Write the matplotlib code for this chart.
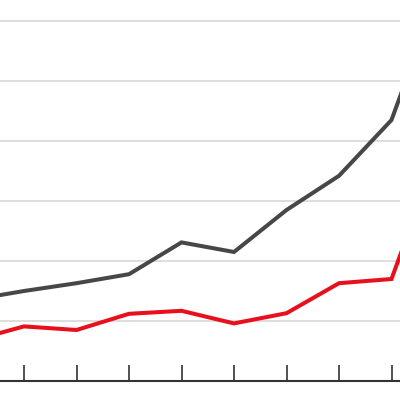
import matplotlib
matplotlib.use("Agg")
import matplotlib.pyplot as plt

# periods (the chart is cropped, first and last points fall outside the frame)
periodos = list(range(10))
serie_cinza = [13.5, 15.0, 16.3, 17.8, 23.1, 21.5, 28.5, 34.2, 43.5, 67.5]
serie_vermelha = [6.7, 9.1, 8.5, 11.2, 11.7, 9.6, 11.3, 16.3, 17.0, 41.0]
grade_y = [10, 20, 30, 40, 50, 60]
ticks_x = [1, 2, 3, 4, 5, 6, 7, 8]

fig = plt.figure(figsize=(4, 4), dpi=100)
ax = fig.add_axes([0, 19 / 400, 1, 381 / 400])

ax.plot(periodos, serie_cinza, color="#474747", lw=2.9, solid_joinstyle="miter", zorder=3)
ax.plot(periodos, serie_vermelha, color="#e8101c", lw=2.9, solid_joinstyle="miter", zorder=3)

ax.set_xlim(1 - 24 / 52.5, 1 + 376 / 52.5)
ax.set_ylim(0, 63.5)

ax.set_yticks(grade_y)
ax.yaxis.grid(True, color="#d4d4d4", lw=1.1)
ax.tick_params(axis="y", length=0, labelleft=False)

ax.set_xticks(ticks_x)
ax.tick_params(axis="x", direction="in", length=11.2, width=1.1, color="#222222", labelbottom=False)

for s in ["top", "left", "right"]:
    ax.spines[s].set_visible(False)
ax.spines["bottom"].set_color("#333333")
ax.spines["bottom"].set_linewidth(1.5)
ax.set_axisbelow(True)

fig.savefig("out.png", dpi=100)
